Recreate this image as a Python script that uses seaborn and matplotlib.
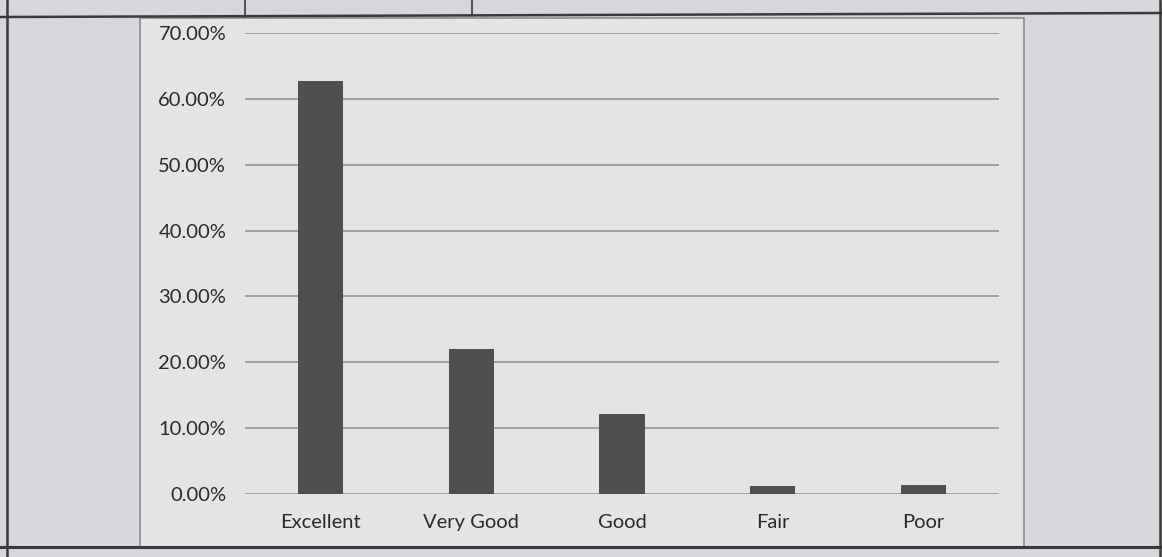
import matplotlib
matplotlib.use("Agg")
import matplotlib.pyplot as plt
import matplotlib.patches as mpatches
from matplotlib.lines import Line2D
from matplotlib.ticker import PercentFormatter
import seaborn as sns
import pandas as pd

# ratings and share of responses
categorias = ['Excellent', 'Very Good', 'Good', 'Fair', 'Poor']
percentuais = [0.627, 0.220, 0.121, 0.012, 0.014]
ticks_y = [0.0, 0.1, 0.2, 0.3, 0.4, 0.5, 0.6, 0.7]

df = pd.DataFrame({'Rating': categorias, 'Share': percentuais})

sns.set_theme(style="white")
plt.rcParams['font.family'] = ['Lato', 'DejaVu Sans']

fig = plt.figure(figsize=(11.62, 5.57), dpi=100, facecolor='#d6d7da')

# caixa do gráfico (área branca impressa) - atrás dos eixos
fig.add_artist(mpatches.Rectangle((0.1205, 0.018), 0.7608, 0.9497, transform=fig.transFigure,
                                  facecolor='#e3e4e6', edgecolor='#8c8c8c', linewidth=1.2,
                                  zorder=-5))

# linhas da tabela em volta
linha = dict(transform=fig.transFigure, color='#3a3a3a', zorder=-4)
fig.add_artist(Line2D([0.0, 1.0], [1 - 17 / 557, 1 - 13 / 557], linewidth=1.8, **linha))
fig.add_artist(Line2D([0.0, 1.0], [1 - 547 / 557, 1 - 547 / 557], linewidth=2.2, **linha))
fig.add_artist(Line2D([7 / 1162, 7 / 1162], [0.0, 1.0], linewidth=1.8, **linha))
fig.add_artist(Line2D([1160 / 1162, 1160 / 1162], [0.0, 1.0], linewidth=1.8, **linha))
fig.add_artist(Line2D([245 / 1162, 245 / 1162], [1 - 17 / 557, 1.0], linewidth=1.2, **linha))
fig.add_artist(Line2D([472 / 1162, 472 / 1162], [1 - 16 / 557, 1.0], linewidth=1.2, **linha))

ax = fig.add_axes([0.2108, 0.1131, 0.649, 0.8277])
ax.set_zorder(2)
ax.set_facecolor('none')

sns.barplot(data=df, x='Rating', y='Share', color='#4f4f51', width=0.3,
            saturation=1, linewidth=0, ax=ax, zorder=3)

ax.set_ylim(0, 0.7)
ax.set_yticks(ticks_y)
ax.yaxis.set_major_formatter(PercentFormatter(1.0, decimals=2))
ax.grid(axis='y', color='#8e8e8e', linewidth=1.1, zorder=0)
ax.set_axisbelow(True)
for lado in ['top', 'right', 'left', 'bottom']:
    ax.spines[lado].set_visible(False)
ax.tick_params(axis='y', length=0, pad=13.5, labelsize=14.5, labelcolor='#2a2a2a')
ax.tick_params(axis='x', length=0, pad=14.5, labelsize=14.5, labelcolor='#2a2a2a')
ax.set_xlabel('')
ax.set_ylabel('')

fig.savefig('out.png', dpi=100, facecolor=fig.get_facecolor())
